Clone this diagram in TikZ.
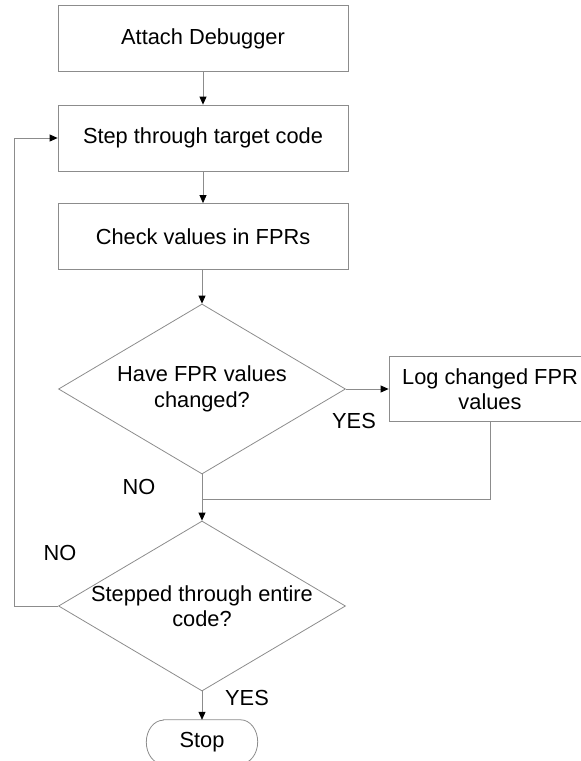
\documentclass[tikz,border=0pt]{standalone}
\usepackage{fontspec}
\setmainfont{Liberation Sans}
\usetikzlibrary{arrows.meta,shapes.geometric}
\definecolor{linegray}{RGB}{140,140,140}
\begin{document}
\begin{tikzpicture}[x=1pt,y=-1pt,
  every node/.style={font=\fontsize{21.8}{25.5}\selectfont, inner sep=0pt},
  line/.style={draw=linegray, line width=0.8pt},
  conn/.style={line, -{Triangle[length=8pt,width=7pt,color=black]}},
  procbox/.style={line, rectangle, minimum width=290pt, minimum height=66pt, align=center},
  decision/.style={line, diamond, minimum width=287pt, minimum height=170pt},
  lbl/.style={anchor=center}]
\useasboundingbox (0,0) rectangle (581,761);

% process steps
\node[procbox] (b1) at (203,38.5) {Attach Debugger};
\node[procbox] (b2) at (203,138) {Step through target code};
\node[procbox] (b3) at (203,236.5) {Check values in FPRs};

% first decision
\node[decision] (d1) at (202,389) {};
\node[align=center] (t1) at (d1) {Have FPR values\\changed?};

% logging step
\node[procbox, minimum width=202pt, minimum height=65pt] (log) at (490,389) {Log changed FPR\\values};

% second decision
\node[decision] (d2) at (202,606) {};
\node[align=center] (t2) at (d2) {Stepped through entire\\code?};

% terminator
\node[minimum width=111pt, minimum height=44pt] (stop) at (202,742) {Stop};
\draw[line] ([xshift=17pt]stop.north west) -- ([xshift=-17pt]stop.north east)
  arc[start angle=90, end angle=-90, x radius=17pt, y radius=22pt]
  -- ([xshift=17pt]stop.south west)
  arc[start angle=270, end angle=90, x radius=17pt, y radius=22pt] -- cycle;

% connectors
\coordinate (merge) at (202,499);
\draw[conn] (b1) -- (b2);
\draw[conn] (b2) -- (b3);
\draw[conn] (b3.south -| d1.north) -- (d1.north);
\draw[conn] (d1.east) -- (log.west);
\draw[line] (log.south) |- (merge);
\draw[conn] (d1.south) -- (d2.north);
\draw[conn] (d2.west) -- ++(-44,0) |- (b2.west);
\draw[conn] (d2.south) -- (stop.north);

% branch labels
\node[lbl] (yes1) at (354,421) {YES};
\node[lbl] (no1) at (139,487) {NO};
\node[lbl] (no2) at (60,553) {NO};
\node[lbl] (yes2) at (247,698) {YES};
\end{tikzpicture}
\end{document}
